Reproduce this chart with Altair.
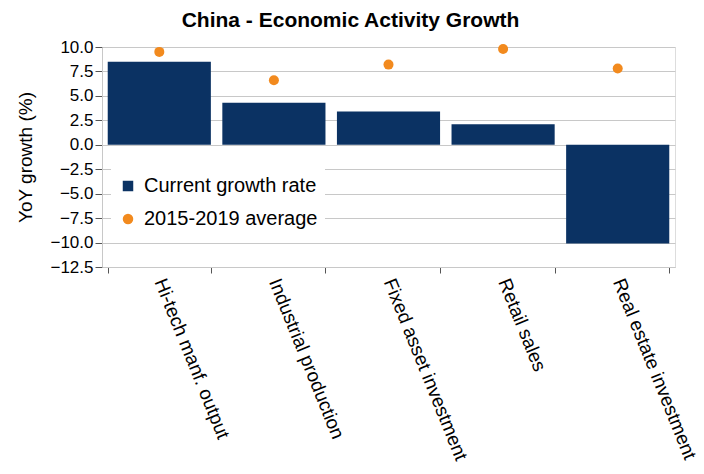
import altair as alt
import pandas as pd

categories = ["Hi-tech manf. output", "Industrial production", "Fixed asset investment",
              "Retail sales", "Real estate investment"]
current_growth = [8.5, 4.3, 3.4, 2.1, -10.1]
avg_2015_2019 = [9.5, 6.6, 8.2, 9.8, 7.8]
series_names = ["Current growth rate", "2015-2019 average"]
y_ticks = [10.0, 7.5, 5.0, 2.5, 0.0, -2.5, -5.0, -7.5, -10.0, -12.5]

NAVY = "#0B3263"
ORANGE = "#F28A1E"
FONT = "Liberation Sans"

bars_df = pd.DataFrame({"category": categories, "value": current_growth, "series": series_names[0]})
pts_df = pd.DataFrame({"category": categories, "value": avg_2015_2019, "series": series_names[1]})

legend = alt.Legend(
    title=None, orient="none", legendX=9, legendY=122,
    fillColor="white", padding=7, labelFontSize=20, labelFont=FONT,
    labelColor="black", symbolSize=110, rowPadding=13, labelOffset=6,
    symbolStrokeWidth=0, symbolOpacity=1, labelLimit=400,
)

color = alt.Color("series:N", scale=alt.Scale(domain=series_names, range=[NAVY, ORANGE]), legend=legend)
shape = alt.Shape("series:N", scale=alt.Scale(domain=series_names, range=["square", "circle"]), legend=legend)

x_enc = alt.X(
    "category:N", sort=categories,
    scale=alt.Scale(paddingInner=0.1, paddingOuter=0.05),
    axis=alt.Axis(
        title=None, labelAngle=68, labelFontSize=19, labelFont=FONT, labelColor="black",
        tickBand="extent", tickSize=6, tickColor="#555555", domainColor="#c8c8c8",
        labelPadding=6, grid=False, labelLimit=400,
    ),
)
y_enc = alt.Y(
    "value:Q", scale=alt.Scale(domain=[-12.5, 10], nice=False, zero=False),
    axis=alt.Axis(
        values=y_ticks, format=".1f", title="YoY growth (%)", titleFontSize=19,
        titleFontWeight="normal", titleFont=FONT, titleColor="black",
        labelFontSize=17, labelFont=FONT, labelColor="black", tickSize=7,
        tickColor="#555555", domainColor="#c8c8c8", gridColor="#c8c8c8",
        titlePadding=14, labelPadding=2,
    ),
)

bars = alt.Chart(bars_df).mark_bar(color=NAVY).encode(x=x_enc, y=y_enc, color=color)
points = alt.Chart(pts_df).mark_point(filled=True, size=100, opacity=1).encode(
    x=x_enc, y=y_enc, color=color, shape=shape
)

chart = alt.layer(bars, points).properties(
    width=573, height=220,
    autosize=alt.AutoSizeParams(type="none"),
    padding={"left": 102, "top": 47, "right": 29, "bottom": 207},
    title=alt.TitleParams(
        "China - Economic Activity Growth", fontSize=21, fontWeight="bold", font=FONT,
        color="black", anchor="middle", frame="group", dx=-38, offset=7,
    ),
).configure_view(stroke="#c8c8c8").configure(background="white")

chart.save("out.html", embed_options={"renderer": "svg", "actions": False})
